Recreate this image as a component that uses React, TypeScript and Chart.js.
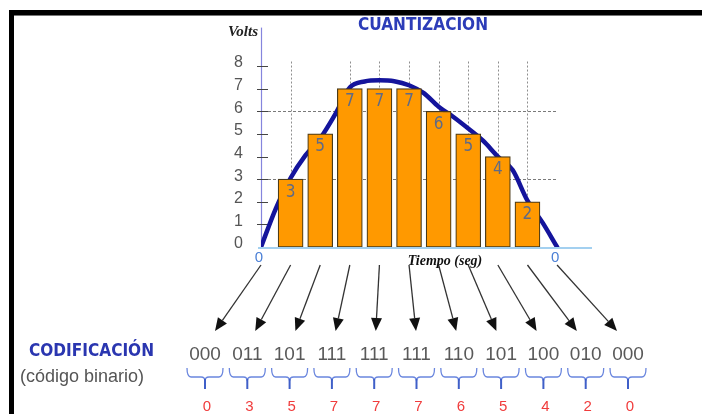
import React, { useEffect, useRef } from 'react';
import { Chart, registerables } from 'chart.js';

Chart.register(...registerables);

// ---- data ----
const sampleTimes = [0, 1, 2, 3, 4, 5, 6, 7, 8, 9, 10];
const sampleVolts = [0, 3, 5, 7, 7, 7, 6, 5, 4, 2, 0];
const barTimes = [1, 2, 3, 4, 5, 6, 7, 8, 9];
const barVolts = [3, 5, 7, 7, 7, 6, 5, 4, 2];
const binaryCodes = ['000', '011', '101', '111', '111', '111', '110', '101', '100', '010', '000'];
const yTickValues = [0, 1, 2, 3, 4, 5, 6, 7, 8];
const curveTimes = [0, 0.5, 1, 1.5, 2, 2.5, 3, 3.5, 4, 4.5, 5, 5.5, 6, 6.5, 7, 7.5, 8, 8.5, 9, 9.5, 10];
const curveVolts = [0, 1.7, 3.05, 4.05, 4.8, 5.85, 7.05, 7.32, 7.37, 7.33, 7.15, 6.8, 6.2, 5.75, 5.24, 4.7, 4.0, 3.4, 2.05, 1.1, 0];
const vGridTimes = [1, 3, 4, 5, 6, 7, 8, 9];
const hGridVolts = [3, 6];
const axisZeroTimes = [0, 10];

const titleText = 'CUANTIZACION';
const yAxisTitle = 'Volts';
const xAxisTitle = 'Tiempo (seg)';
const codingTitle = 'CODIFICACIÓN';
const codingSubtitle = '(código binario)';

const SANS = "'Liberation Sans', Arial, sans-serif";
const COND = "'DejaVu Sans Condensed', 'Liberation Sans', sans-serif";
const SERIF = "'Liberation Serif', 'Times New Roman', serif";

const decorPlugin = {
  id: 'decor',
  beforeDatasetsDraw(chart: any) {
    const { ctx, scales, chartArea } = chart;
    const x = scales.x;
    const y = scales.y;
    ctx.save();
    // vertical dotted grid lines
    ctx.strokeStyle = '#8e8e8e';
    ctx.lineWidth = 1;
    ctx.setLineDash([2, 2]);
    vGridTimes.forEach((t) => {
      const px = Math.round(x.getPixelForValue(t)) + 0.5;
      ctx.beginPath();
      ctx.moveTo(px, y.getPixelForValue(8.2));
      ctx.lineTo(px, y.getPixelForValue(0));
      ctx.stroke();
    });
    // horizontal dashed grid lines
    ctx.setLineDash([3, 2]);
    ctx.strokeStyle = '#7a7a7a';
    hGridVolts.forEach((v) => {
      const py = Math.round(y.getPixelForValue(v)) + 0.5;
      ctx.beginPath();
      ctx.moveTo(x.getPixelForValue(0) + 7, py);
      ctx.lineTo(x.getPixelForValue(10), py);
      ctx.stroke();
    });
    ctx.setLineDash([]);
    // y axis line
    ctx.strokeStyle = '#8585dd';
    ctx.lineWidth = 1.2;
    ctx.beginPath();
    ctx.moveTo(chartArea.left + 0.5, chartArea.top);
    ctx.lineTo(chartArea.left + 0.5, y.getPixelForValue(0));
    ctx.stroke();
    // y tick marks
    ctx.strokeStyle = '#444';
    ctx.lineWidth = 1;
    yTickValues.forEach((v) => {
      if (v === 0) return;
      const py = Math.round(y.getPixelForValue(v)) + 0.5;
      ctx.beginPath();
      ctx.moveTo(chartArea.left - 4, py);
      ctx.lineTo(chartArea.left + 7, py);
      ctx.stroke();
    });
    ctx.restore();
  },
  afterDatasetsDraw(chart: any) {
    const { ctx, scales, chartArea } = chart;
    const x = scales.x;
    const y = scales.y;
    ctx.save();
    // x axis line
    ctx.strokeStyle = '#a3d0f0';
    ctx.lineWidth = 2;
    ctx.beginPath();
    ctx.moveTo(chartArea.left - 3, y.getPixelForValue(0) + 1);
    ctx.lineTo(chartArea.right, y.getPixelForValue(0) + 1);
    ctx.stroke();

    // bar value labels
    const meta = chart.getDatasetMeta(1);
    ctx.fillStyle = '#5f6a86';
    ctx.font = `17px ${COND}`;
    ctx.textAlign = 'center';
    ctx.textBaseline = 'middle';
    meta.data.forEach((el: any, i: number) => {
      ctx.fillText(String(barVolts[i]), el.x, el.y + 13);
    });

    // title
    ctx.fillStyle = '#2c3cb8';
    ctx.font = `bold 18px ${COND}`;
    ctx.fillText(titleText, 423, 25, 130);

    // Volts
    ctx.fillStyle = '#222';
    ctx.font = `bold italic 15px ${SERIF}`;
    ctx.textAlign = 'right';
    ctx.fillText(yAxisTitle, 258, 32);

    // zero labels on x axis
    ctx.textAlign = 'center';
    ctx.fillStyle = '#4a7fd6';
    ctx.font = `15px ${SANS}`;
    axisZeroTimes.forEach((t) => {
      ctx.fillText('0', x.getPixelForValue(t) - 2, 258);
    });

    // arrows
    const codeStart = 205;
    const codeStep = 42.3;
    const tipStart = 215;
    const tipStep = 40.2;
    sampleTimes.forEach((t, i) => {
      const sx = x.getPixelForValue(t);
      const sy = 265;
      const tx = tipStart + i * tipStep;
      const ty = 331;
      const ang = Math.atan2(ty - sy, tx - sx);
      const headLen = 13;
      const headHalf = 5.5;
      const bx = tx - headLen * Math.cos(ang);
      const by = ty - headLen * Math.sin(ang);
      ctx.strokeStyle = '#333';
      ctx.lineWidth = 1.3;
      ctx.beginPath();
      ctx.moveTo(sx, sy);
      ctx.lineTo(bx, by);
      ctx.stroke();
      ctx.fillStyle = '#111';
      ctx.beginPath();
      ctx.moveTo(tx, ty);
      ctx.lineTo(bx + headHalf * Math.sin(ang), by - headHalf * Math.cos(ang));
      ctx.lineTo(bx - headHalf * Math.sin(ang), by + headHalf * Math.cos(ang));
      ctx.closePath();
      ctx.fill();
    });

    // Tiempo (seg)
    ctx.fillStyle = '#111';
    ctx.font = `bold italic 14px ${SERIF}`;
    ctx.textAlign = 'center';
    ctx.fillText(xAxisTitle, 445, 261);

    // codes, braces, decimal values
    binaryCodes.forEach((code, i) => {
      const cx = codeStart + i * codeStep;
      ctx.fillStyle = '#595959';
      ctx.font = `19px ${SANS}`;
      ctx.textAlign = 'center';
      ctx.fillText(code, cx, 355);

      const hw = 18;
      const y0 = 368;
      const y1 = 377;
      const y2 = 389;
      ctx.strokeStyle = '#6a86de';
      ctx.lineWidth = 1.3;
      ctx.beginPath();
      ctx.moveTo(cx - hw, y0);
      ctx.quadraticCurveTo(cx - hw, y1, cx - hw + 4, y1);
      ctx.lineTo(cx - 4, y1);
      ctx.quadraticCurveTo(cx, y1, cx, y1 + 4);
      ctx.moveTo(cx + hw, y0);
      ctx.quadraticCurveTo(cx + hw, y1, cx + hw - 4, y1);
      ctx.lineTo(cx + 4, y1);
      ctx.quadraticCurveTo(cx, y1, cx, y1 + 4);
      ctx.stroke();
      ctx.strokeStyle = '#3f5fc8';
      ctx.lineWidth = 2;
      ctx.beginPath();
      ctx.moveTo(cx, y1 + 2);
      ctx.lineTo(cx, y2);
      ctx.stroke();

      ctx.fillStyle = '#f03c3c';
      ctx.font = `15px ${SANS}`;
      ctx.fillText(String(sampleVolts[i]), cx + 2, 407);
    });

    // CODIFICACIÓN labels
    ctx.textAlign = 'left';
    ctx.fillStyle = '#2a36b0';
    ctx.font = `bold 18px ${COND}`;
    ctx.fillText(codingTitle, 29, 351, 125);
    ctx.fillStyle = '#555';
    ctx.font = `18px ${SANS}`;
    ctx.fillText(codingSubtitle, 20, 377, 130);

    ctx.restore();
  },
  afterDraw(chart: any) {
    const { ctx } = chart;
    ctx.save();
    ctx.fillStyle = '#000';
    ctx.fillRect(9, 10, 702 - 9, 5);
    ctx.fillRect(9, 10, 5, 414 - 10);
    ctx.fillStyle = '#777';
    ctx.fillRect(14, 15, 702 - 14, 1);
    ctx.restore();
  },
};

export default function App() {
  const canvasRef = useRef<HTMLCanvasElement | null>(null);

  useEffect(() => {
    const canvas = canvasRef.current;
    if (!canvas) return;
    const chart = new Chart(canvas, {
      type: 'bar',
      data: {
        datasets: [
          {
            type: 'line',
            label: 'señal',
            data: curveTimes.map((t, i) => ({ x: t, y: curveVolts[i] })),
            borderColor: '#14149c',
            borderWidth: 4.5,
            pointRadius: 0,
            cubicInterpolationMode: 'monotone',
            borderCapStyle: 'round',
            fill: false,
            order: 2,
          } as any,
          {
            type: 'bar',
            label: 'cuantización',
            data: barTimes.map((t, i) => ({ x: t, y: barVolts[i] })),
            backgroundColor: '#ff9900',
            borderColor: '#4a3a18',
            borderWidth: 1.2,
            borderSkipped: false,
            barThickness: 25,
            order: 1,
          } as any,
        ],
      },
      options: {
        responsive: false,
        animation: false,
        layout: { padding: { left: 0, right: 110, top: 23, bottom: 167 } },
        plugins: {
          legend: { display: false },
          tooltip: { enabled: false },
          title: { display: false },
        },
        scales: {
          x: { type: 'linear', min: 0, max: 11.18, display: false, offset: false },
          y: {
            type: 'linear',
            min: 0,
            max: 9.7,
            grid: { display: false, drawTicks: false },
            border: { display: false },
            afterFit: (s: any) => {
              s.width = 261;
            },
            afterBuildTicks: (s: any) => {
              s.ticks = yTickValues.map((v) => ({ value: v }));
            },
            ticks: {
              padding: 18,
              labelOffset: -3,
              color: '#555',
              font: { family: SANS, size: 16 },
            },
          },
        },
      } as any,
      plugins: [decorPlugin],
    });
    return () => chart.destroy();
  }, []);

  return (
    <div style={{ position: 'absolute', left: 0, top: 0, width: 702, height: 414, background: '#fff' }}>
      <canvas ref={canvasRef} width={702} height={414} style={{ display: 'block' }} />
    </div>
  );
}
